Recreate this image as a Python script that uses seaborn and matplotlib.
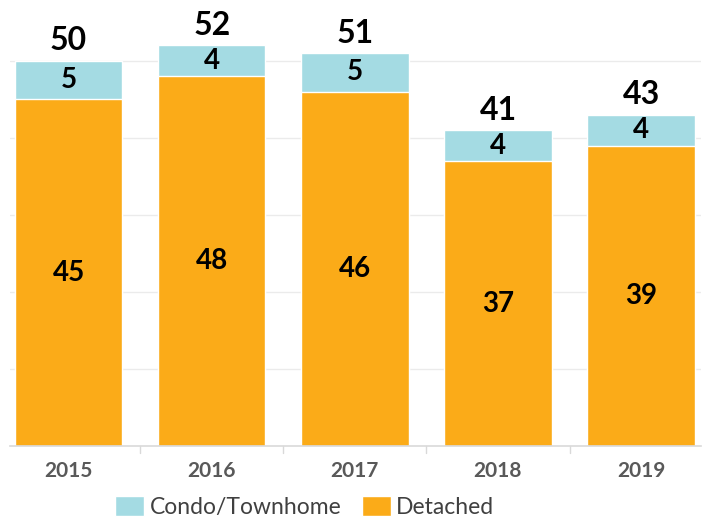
import matplotlib
matplotlib.use("Agg")
import matplotlib.pyplot as plt
import seaborn as sns
import pandas as pd
from matplotlib.patches import Patch

years = ["2015", "2016", "2017", "2018", "2019"]
detached = [45, 48, 46, 37, 39]
condo = [5, 4, 5, 4, 4]
totals = [50, 52, 51, 41, 43]

ORANGE = "#FBAB18"
BLUE = "#A4DBE3"

sns.set_theme(style="white")
plt.rcParams["font.family"] = ["Lato", "DejaVu Sans"]

df = pd.DataFrame({"year": years, "detached": detached, "condo": condo,
                   "total": [d + c for d, c in zip(detached, condo)]})

fig = plt.figure(figsize=(7.09, 5.2), dpi=100)
ax = fig.add_axes([0.014, 0.142, 0.975, 0.858])

sns.barplot(data=df, x="year", y="total", color=BLUE, width=0.75,
            saturation=1, ax=ax, zorder=2)
sns.barplot(data=df, x="year", y="detached", color=ORANGE, width=0.75,
            saturation=1, ax=ax, zorder=3)

ax.set_xlim(-0.41, 4.42)
ax.set_ylim(0, 57.9)
ax.set_yticks([10, 20, 30, 40, 50])
ax.yaxis.grid(True, color="#EBEBEB", linewidth=1)
ax.set_axisbelow(True)
ax.set_yticklabels([])
ax.tick_params(axis="y", length=0)
ax.set_xlabel("")
ax.set_ylabel("")
for s in ["top", "right", "left"]:
    ax.spines[s].set_visible(False)
ax.spines["bottom"].set_color("#D9D9D9")
ax.spines["bottom"].set_linewidth(1.2)
ax.spines["bottom"].set_zorder(4)

ax.set_xticks([0, 1, 2, 3, 4])
ax.set_xticklabels(years, fontsize=15, fontweight="bold", color="#595959")
ax.tick_params(axis="x", length=0, pad=11)
for xs in [0.5, 1.5, 2.5, 3.5]:
    ax.plot([xs, xs], [0, -0.9], color="#D9D9D9", lw=1, clip_on=False)

for i, (d, c, t) in enumerate(zip(detached, condo, totals)):
    ax.text(i, d / 2, str(d), ha="center", va="center", fontsize=20,
            fontweight="bold", color="black", zorder=5)
    ax.text(i, d + c / 2, str(c), ha="center", va="center", fontsize=20,
            fontweight="bold", color="black", zorder=5)
    ax.text(i, t + 0.7, str(t), ha="center", va="bottom", fontsize=23,
            fontweight="bold", color="black", zorder=5)

handles = [Patch(facecolor=BLUE, label="Condo/Townhome"),
           Patch(facecolor=ORANGE, label="Detached")]
fig.legend(handles=handles, loc="lower center", bbox_to_anchor=(0.43, -0.036),
           ncol=2, frameon=False, fontsize=16.5, handlelength=1.25,
           handleheight=0.95, handletextpad=0.25, columnspacing=0.9,
           labelcolor="#404040")

fig.savefig("out.png", dpi=100)
